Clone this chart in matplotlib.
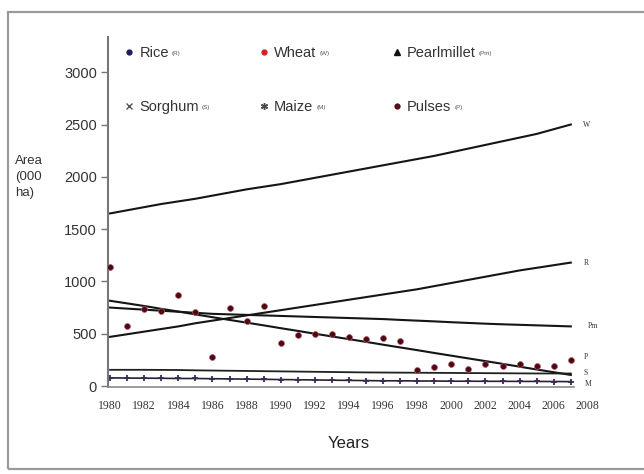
import matplotlib.pyplot as plt
from matplotlib.lines import Line2D
from matplotlib.patches import Rectangle

plt.rcParams['font.family'] = ['Liberation Sans', 'DejaVu Sans']

# area in 000 ha
years = list(range(1980, 2008))
wheat = [1650, 1680, 1710, 1740, 1765, 1790, 1820, 1850, 1880, 1905, 1930, 1960,
         1990, 2020, 2050, 2080, 2110, 2140, 2170, 2200, 2235, 2270, 2305, 2340,
         2375, 2410, 2455, 2500]
rice = [470, 495, 520, 545, 570, 600, 625, 650, 675, 700, 725, 750, 775, 800,
        825, 850, 875, 900, 925, 955, 985, 1015, 1045, 1075, 1105, 1130, 1155, 1180]
pearlmillet = [750, 740, 730, 720, 710, 700, 690, 685, 680, 675, 670, 665, 660, 655,
               650, 645, 640, 632, 625, 618, 610, 603, 596, 590, 585, 580, 575, 570]
pulses_trend = [815, 790, 765, 738, 712, 685, 658, 632, 606, 580, 553, 527, 500, 474,
                448, 422, 395, 369, 343, 316, 290, 264, 238, 212, 185, 158, 132, 106]
sorghum = [155, 155, 155, 154, 153, 150, 148, 146, 144, 142, 140, 138, 136, 134,
           132, 130, 129, 128, 127, 126, 125, 124, 123, 122, 121, 120, 120, 120]
maize = [78, 76, 75, 74, 72, 72, 70, 68, 66, 64, 62, 60, 58, 56,
         54, 52, 50, 50, 48, 48, 46, 46, 45, 45, 44, 44, 43, 42]
pulses = [1140, 577, 736, 717, 870, 711, 280, 749, 625, 765, 408, 488, 494, 494,
          472, 446, 456, 433, 153, 179, 210, 162, 210, 191, 210, 191, 191, 249]

y_ticks = [0, 500, 1000, 1500, 2000, 2500, 3000]
x_ticks = list(range(1980, 2009, 2))

fig = plt.figure(figsize=(6.44, 4.74), dpi=100)
fig.patches.append(Rectangle((8 / 644, 1 - 469 / 474), 1.0, (469 - 12) / 474,
                             transform=fig.transFigure, fill=False,
                             edgecolor='#9a9a9a', linewidth=1.6))
ax = fig.add_axes([0.1677, 0.1834, 0.7531, 0.7393])

line_kw = dict(color='#151515', linewidth=1.5)
ax.plot(years, wheat, **line_kw)
ax.plot(years, rice, **line_kw)
ax.plot(years, pearlmillet, **line_kw)
ax.plot(years, pulses_trend, **line_kw)
ax.plot(years, sorghum, color='#202020', linewidth=1.3)
ax.plot(years, maize, color='#2a2030', linewidth=1.2, marker='+', markersize=5,
        markeredgecolor='#3a2a55', markeredgewidth=1.3)
ax.scatter(years, pulses, s=18, color='#4a0a14', edgecolors='#b05868',
           linewidths=0.5, zorder=3)

# short series names at the right end of each line
end_kw = dict(textcoords='offset points', fontsize=5.5, family='Liberation Serif',
              color='#333333', va='center', ha='left')
ax.annotate('W', xy=(years[-1], wheat[-1]), xytext=(9, 0), **end_kw)
ax.annotate('R', xy=(years[-1], rice[-1]), xytext=(9, 0), **end_kw)
ax.annotate('Pm', xy=(years[-1], pearlmillet[-1]), xytext=(12, 0), **end_kw)
ax.annotate('P', xy=(years[-1], pulses[-1]), xytext=(9, 2), **end_kw)
ax.annotate('S', xy=(years[-1], sorghum[-1]), xytext=(9, 0), **end_kw)
ax.annotate('M', xy=(years[-1], maize[-1]), xytext=(10, -2), **end_kw)

ax.set_xlim(1979.88, 2008.3)
ax.set_ylim(-10, 3340)
ax.set_yticks(y_ticks)
ax.set_xticks(x_ticks)
ax.tick_params(axis='y', length=5, width=1, color='#777777', labelsize=10.5,
               labelcolor='#333333', pad=3)
ax.tick_params(axis='x', length=0, labelsize=8.5, labelcolor='#333333', pad=9)
for lab in ax.get_xticklabels():
    lab.set_family('Liberation Serif')

for side in ['top', 'right']:
    ax.spines[side].set_visible(False)
ax.spines['left'].set_color('#777777')
ax.spines['left'].set_linewidth(1.5)
ax.spines['bottom'].set_color('#8a8a8a')
ax.spines['bottom'].set_linewidth(1.2)
ax.spines['bottom'].set_bounds(1979.88, 2007.2)

# legend: first two columns in one legend, third column in another
handles = [
    Line2D([], [], linestyle='none', marker='o', markersize=3.5, color='#1c1c60'),
    Line2D([], [], linestyle='none', marker='x', markersize=4, color='#555555'),
    Line2D([], [], linestyle='none', marker='o', markersize=3.5, color='#d42020'),
    Line2D([], [], linestyle='none', marker=(6, 2, 0), markersize=5, color='#444444'),
    Line2D([], [], linestyle='none', marker='^', markersize=4, color='#111111'),
    Line2D([], [], linestyle='none', marker='o', markersize=3.5, color='#5a0c18'),
]
names = ['Rice', 'Sorghum', 'Wheat', 'Maize', 'Pearlmillet', 'Pulses']
codes = ['(R)', '(S)', '(W)', '(M)', '(Pm)', '(P)']
leg_kw = dict(loc='upper left', frameon=False, fontsize=10.5, labelspacing=2.75,
              handlelength=0.7, handletextpad=0.35, columnspacing=4.1, borderpad=0)
leg1 = ax.legend(handles[:4], names[:4], ncol=2, bbox_to_anchor=(0.018, 0.995), **leg_kw)
ax.add_artist(leg1)
leg2 = ax.legend(handles[4:], names[4:], ncol=1, bbox_to_anchor=(0.570, 0.995), **leg_kw)
texts = list(leg1.get_texts()) + list(leg2.get_texts())
for txt in texts:
    txt.set_color('#333333')

# tiny codes after each legend name, placed once the legend is laid out
fig.canvas.draw()
for txt, code in zip(texts, codes):
    bb = txt.get_window_extent()
    fig.text((bb.x1 + 3) / 644, (bb.y0 + bb.y1) / 2 / 474 - 0.002, code,
             fontsize=4.5, color='#555555', va='center', ha='left')

fig.text(15 / 644, 1 - 155 / 474, 'Area\n(000\nha)', fontsize=9.5, color='#333333',
         ha='left', va='top', linespacing=1.45)
fig.text(349 / 644, 1 - 443 / 474, 'Years', fontsize=12, color='#222222',
         ha='center', va='center')

fig.savefig('out.png', dpi=100)
